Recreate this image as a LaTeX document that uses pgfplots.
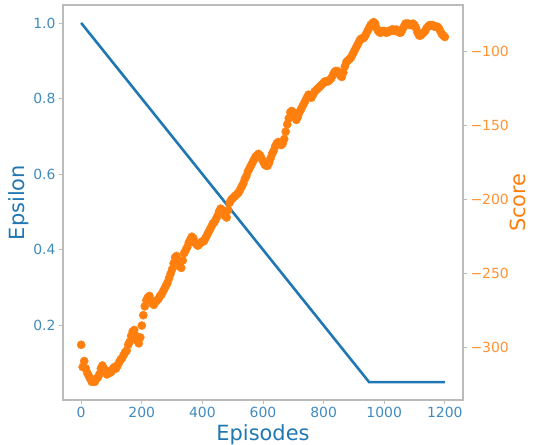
\documentclass[border=0pt]{standalone}
\usepackage{pgfplots}
\pgfplotsset{compat=1.18}
\usepackage{fontspec}
\setmainfont{DejaVu Sans}
\definecolor{tabblue}{HTML}{1F77B4}
\definecolor{taborange}{HTML}{FF7F0E}
\definecolor{framegray}{HTML}{BBBBBB}

\begin{document}
\begin{tikzpicture}
\pgfplotsset{
  common/.style={
    scale only axis, width=400bp, height=395bp,
    at={(0,0)}, anchor=south west,
    xmin=-60, xmax=1260,
    axis line style={framegray, line width=1.2pt},
    tick style={framegray, line width=0.8pt},
    tick align=outside, major tick length=4bp,
    /pgf/number format/assume math mode=true,
    /pgf/number format/1000 sep={},
    tick label style={font=\fontsize{14}{16}\selectfont},
    label style={font=\fontsize{21}{24}\selectfont},
  }
}
\begin{axis}[common, name=ax,
    xtick pos=bottom, ytick pos=left,
    ymin=0.0025, ymax=1.0475,
    xtick={0,200,...,1200},
    ytick={0.2,0.4,0.6,0.8,1.0},
    yticklabel style={/pgf/number format/.cd, fixed, fixed zerofill, precision=1},
    tick label style={text=tabblue!85!white},
    xlabel={Episodes}, ylabel={Epsilon},
    xlabel style={text=tabblue},
    ylabel style={text=tabblue, yshift=-2bp},
  ]
  \addplot[tabblue, line width=2.6pt] coordinates {(0,1.0) (950,0.05) (1200,0.05)};
\end{axis}
\begin{axis}[common,
    hide x axis, axis y line*=right, ytick pos=right,
    ymin=-335.3, ymax=-68.4,
    ytick={-300,-250,-200,-150,-100},
    yticklabels={−300,−250,−200,−150,−100},
    yticklabel style={text=taborange!85!white},
    ylabel={Score}, ylabel style={text=taborange, yshift=6bp},
  ]
  \addplot[only marks, mark=*, mark size=4.1bp,
    mark options={draw=taborange, fill=taborange}] coordinates {
    (0,-298) (5,-313) (10,-309) (15,-314) (20,-317) (25,-319) (30,-321) (35,-323)
    (40,-322) (45,-323) (50,-321) (55,-320) (60,-318) (65,-314) (70,-312) (75,-314)
    (80,-316) (85,-318) (90,-316) (95,-317) (100,-316) (105,-314) (110,-313) (115,-314)
    (120,-312) (125,-310) (130,-308) (135,-307) (140,-305) (145,-303) (150,-302) (155,-298)
    (160,-296) (165,-292) (170,-289) (175,-288) (180,-292) (185,-295) (190,-297) (195,-293)
    (200,-285) (205,-278) (210,-272) (215,-268) (220,-266) (225,-265) (230,-268) (235,-270)
    (240,-271) (245,-269) (250,-268) (255,-267) (260,-265) (265,-264) (270,-262) (275,-260)
    (280,-258) (285,-256) (290,-253) (295,-250) (300,-247) (305,-243) (310,-239) (315,-238)
    (320,-241) (325,-245) (330,-246) (335,-241) (340,-236) (345,-234) (350,-232) (355,-229)
    (360,-227) (365,-225) (370,-226) (375,-229) (380,-230) (385,-231) (390,-230) (395,-229)
    (400,-228) (405,-228) (410,-226) (415,-224) (420,-222) (425,-220) (430,-218) (435,-216)
    (440,-215) (445,-213) (450,-211) (455,-208) (460,-206) (465,-207) (470,-209) (475,-211)
    (480,-212) (485,-207) (490,-202) (495,-200) (500,-199) (505,-198) (510,-197) (515,-196)
    (520,-195) (525,-193) (530,-191) (535,-189) (540,-186) (545,-184) (550,-181) (555,-179)
    (560,-177) (565,-175) (570,-173) (575,-171) (580,-170) (585,-169) (590,-170) (595,-172)
    (600,-174) (605,-176) (610,-177) (615,-177) (620,-175) (625,-172) (630,-169) (635,-167)
    (640,-164) (645,-162) (650,-161) (655,-162) (660,-163) (665,-162) (670,-159) (675,-154)
    (680,-149) (685,-145) (690,-141) (695,-140) (700,-141) (705,-144) (710,-146) (715,-144)
    (720,-141) (725,-139) (730,-137) (735,-135) (740,-133) (745,-131) (750,-129) (755,-130)
    (760,-131) (765,-129) (770,-127) (775,-126) (780,-125) (785,-124) (790,-123) (795,-122)
    (800,-121) (805,-120) (810,-120) (815,-120) (820,-119) (825,-118) (830,-116) (835,-114)
    (840,-113) (845,-113) (850,-114) (855,-116) (860,-117) (865,-114) (870,-110) (875,-107)
    (880,-106) (885,-105) (890,-104) (895,-102) (900,-100) (905,-98) (910,-96) (915,-94)
    (920,-92) (925,-91) (930,-91) (935,-90) (940,-88) (945,-86) (950,-84) (955,-82)
    (960,-81) (965,-80) (970,-81) (975,-84) (980,-86) (985,-87) (990,-87) (995,-86)
    (1000,-86) (1005,-87) (1010,-87) (1015,-86) (1020,-86) (1025,-85) (1030,-85) (1035,-86)
    (1040,-85) (1045,-86) (1050,-87) (1055,-87) (1060,-85) (1065,-83) (1070,-81) (1075,-81)
    (1080,-81) (1085,-82) (1090,-82) (1095,-81) (1100,-82) (1105,-84) (1110,-87) (1115,-89)
    (1120,-89) (1125,-88) (1130,-87) (1135,-86) (1140,-84) (1145,-83) (1150,-82) (1155,-82)
    (1160,-82) (1165,-83) (1170,-83) (1175,-83) (1180,-84) (1185,-86) (1190,-88) (1195,-89)
    (1200,-90)};
\end{axis}
\pgfresetboundingbox
\path (ax.south west) ++(-63bp,-45bp) rectangle ++(536bp,445bp);
\end{tikzpicture}
\end{document}
